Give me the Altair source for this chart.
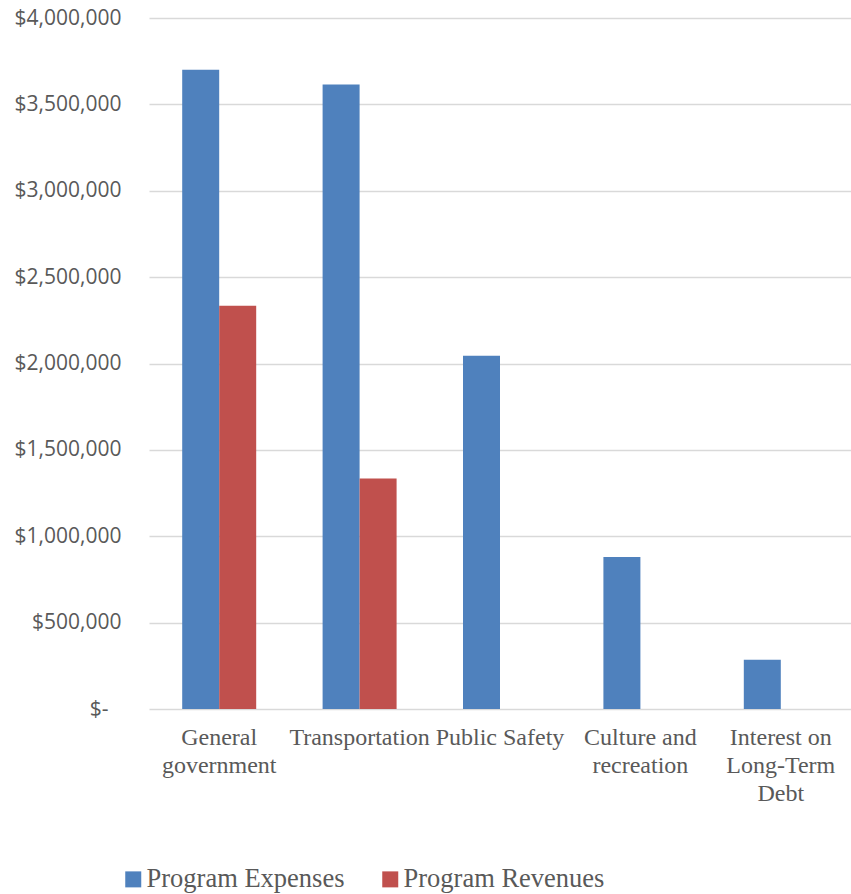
import altair as alt
import pandas as pd

categories = [
    "General government",
    "Transportation",
    "Public Safety",
    "Culture and recreation",
    "Interest on Long-Term Debt",
]
# axis label line breaks, keyed by category
label_lines = {
    "General government": "General|government",
    "Transportation": "Transportation",
    "Public Safety": "Public Safety",
    "Culture and recreation": "Culture and|recreation",
    "Interest on Long-Term Debt": "Interest on|Long-Term|Debt",
}
program_expenses = [3700000, 3615000, 2045000, 880000, 285000]
program_revenues = [2335000, 1335000, 0, 0, 0]
series = ["Program Expenses", "Program Revenues"]
colors = ["#4F81BD", "#C0504D"]

rows = []
for cat, exp, rev in zip(categories, program_expenses, program_revenues):
    rows.append({"category": label_lines[cat], "series": series[0], "amount": exp})
    rows.append({"category": label_lines[cat], "series": series[1], "amount": rev})
df = pd.DataFrame(rows)

cat_order = [label_lines[c] for c in categories]
gray = "#595959"

chart = (
    alt.Chart(df)
    .mark_bar()
    .encode(
        x=alt.X(
            "category:N",
            sort=cat_order,
            scale=alt.Scale(paddingInner=0.473, paddingOuter=0.2365),
            axis=alt.Axis(
                title=None,
                labelAngle=0,
                domain=False,
                ticks=False,
                grid=False,
                labelFont="Liberation Serif",
                labelFontSize=24,
                labelColor=gray,
                labelPadding=16,
                labelLineHeight=28,
                labelLimit=300,
                labelExpr="split(datum.label, '|')",
            ),
        ),
        xOffset=alt.XOffset("series:N", sort=series, scale=alt.Scale(domain=series)),
        y=alt.Y(
            "amount:Q",
            scale=alt.Scale(domain=[0, 4000000]),
            axis=alt.Axis(
                title=None,
                values=[0, 500000, 1000000, 1500000, 2000000, 2500000, 3000000, 3500000, 4000000],
                domain=False,
                ticks=False,
                labelFont="Open Sans",
                labelFontSize=21,
                labelColor=gray,
                labelPadding={"condition": {"test": "datum.value == 0", "value": 41}, "value": 28},
                gridColor="#D9D9D9",
                gridWidth=1.5,
                labelExpr="datum.value == 0 ? '$-' : '$' + format(datum.value, ',')",
            ),
        ),
        color=alt.Color(
            "series:N",
            sort=series,
            scale=alt.Scale(domain=series, range=colors),
            legend=alt.Legend(
                title=None,
                orient="none",
                direction="horizontal",
                legendX=-29,
                legendY=848,
                symbolType="square",
                symbolSize=256,
                symbolStrokeWidth=0,
                symbolOpacity=1,
                labelFont="Liberation Serif",
                labelFontSize=26.5,
                labelColor=gray,
                labelOffset=0,
                columnPadding=32,
                labelLimit=400,
            ),
        ),
    )
    .properties(
        width=702,
        height=691,
        background="white",
        padding={"left": 149, "top": 18, "right": 0, "bottom": 185},
        autosize=alt.AutoSizeParams(type="none"),
    )
    .configure_view(strokeWidth=0, stroke="transparent")
)

chart.save("out.html", embed_options={"renderer": "svg", "actions": False})
